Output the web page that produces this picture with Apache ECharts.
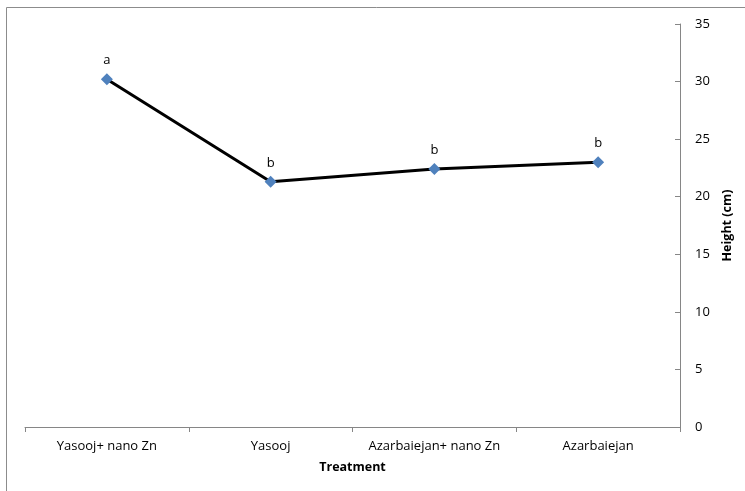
<!DOCTYPE html>
<html>
<head>
<meta charset="utf-8">
<script src="https://cdn.jsdelivr.net/npm/echarts@6/dist/echarts.min.js"></script>
<style>
  html, body { margin: 0; padding: 0; background: #fff; }
  #chart { width: 745px; height: 491px; }
</style>
</head>
<body>
<div id="chart"></div>
<script>
// treatments on the x axis
var treatments = ['Yasooj+ nano Zn', 'Yasooj', 'Azarbaiejan+ nano Zn', 'Azarbaiejan'];
// plant height (cm)
var heights = [30.2, 21.3, 22.4, 23.0];
// significance letters
var letters = ['a', 'b', 'b', 'b'];

var chart = echarts.init(document.getElementById('chart'));
var font = 'Open Sans';

var option = {
    animation: false,
    textStyle: { fontFamily: font },
    graphic: [{
        type: 'rect',
        shape: { x: 6.5, y: 7.5, width: 760, height: 500 },
        style: { fill: 'none', stroke: '#8c8c8c', lineWidth: 1 }
    }],
    grid: { left: 25, right: 65, top: 24, bottom: 64 },
    xAxis: {
        type: 'category',
        data: treatments,
        boundaryGap: true,
        name: 'Treatment',
        nameLocation: 'middle',
        nameGap: 34,
        nameTextStyle: { fontWeight: 'bold', fontSize: 12.5, color: '#000', fontFamily: font },
        axisLine: { lineStyle: { color: '#868686', width: 1 } },
        axisTick: { show: true, interval: 0, alignWithLabel: false, length: 5, lineStyle: { color: '#868686' } },
        axisLabel: { color: '#000', fontSize: 13, margin: 13, interval: 0, hideOverlap: false, fontFamily: font }
    },
    yAxis: {
        type: 'value',
        position: 'right',
        min: 0,
        max: 35,
        interval: 5,
        name: 'Height (cm)',
        nameLocation: 'middle',
        nameRotate: 90,
        nameGap: 41,
        nameTextStyle: { fontWeight: 'bold', fontSize: 12.5, color: '#000', fontFamily: font },
        splitLine: { show: false },
        axisLine: { show: true, lineStyle: { color: '#868686', width: 1 } },
        axisTick: { show: true, inside: true, length: 5, lineStyle: { color: '#868686' } },
        axisLabel: { color: '#000', fontSize: 13, margin: 15, fontFamily: font }
    },
    series: [{
        type: 'line',
        data: heights,
        symbol: 'diamond',
        symbolSize: 12,
        lineStyle: { color: '#000', width: 3 },
        itemStyle: { color: '#4f81bd' },
        label: {
            show: true,
            position: 'top',
            distance: 6,
            color: '#000',
            fontSize: 13,
            fontFamily: font,
            formatter: function (p) { return letters[p.dataIndex]; }
        }
    }]
};

chart.setOption(option);
</script>
</body>
</html>
